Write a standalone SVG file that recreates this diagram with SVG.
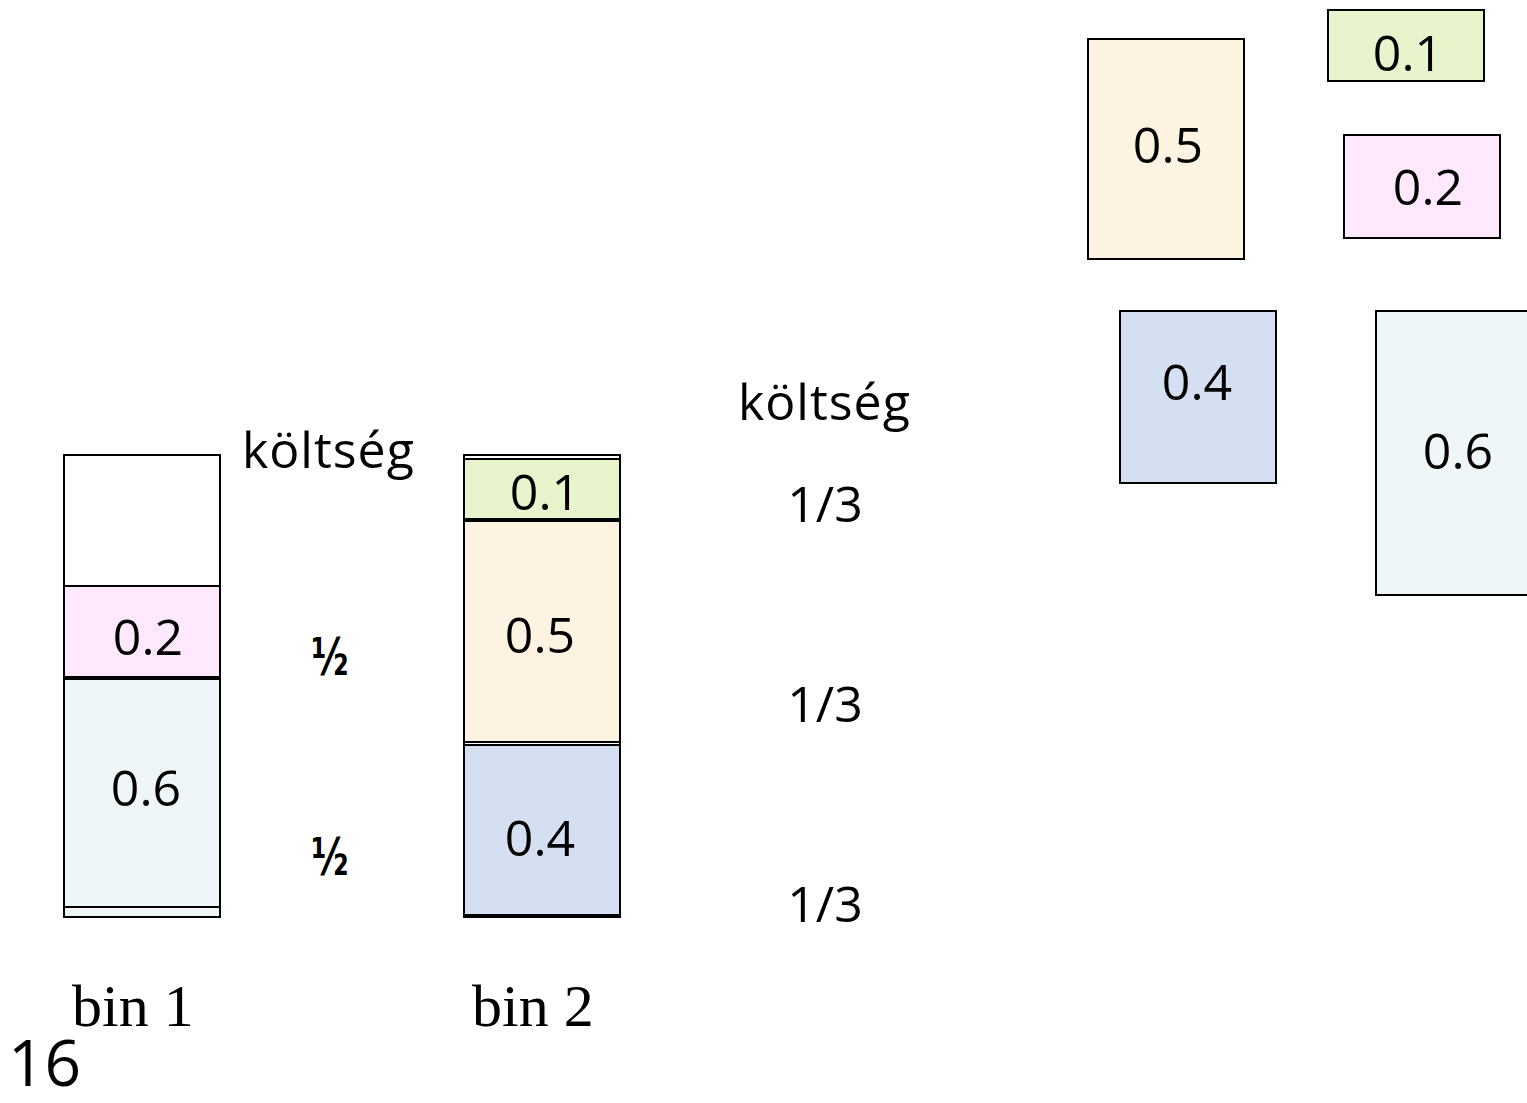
<svg xmlns="http://www.w3.org/2000/svg" width="1527" height="1103" viewBox="0 0 1527 1103">
  <style>
    .box { stroke: #000; stroke-width: 2; }
    .bin { fill: none; stroke: #000; stroke-width: 2; }
    .num { font-family: "Open Sans", "DejaVu Sans", sans-serif; font-size: 50px; fill: #000; text-anchor: middle; }
    .lbl { font-family: "Open Sans", "DejaVu Sans", sans-serif; font-size: 50px; letter-spacing: 1px; fill: #000; }
    .half { font-family: "DejaVu Sans", sans-serif; font-size: 40px; font-weight: bold; fill: #000; text-anchor: middle; }
    .serif { font-family: "Liberation Serif", "Times New Roman", serif; font-size: 60px; fill: #000; }
    .c1 { fill: #E8F4CC; }
    .c2 { fill: #FEE8FE; }
    .c4 { fill: #D4DFF2; }
    .c5 { fill: #FEF3E2; }
    .c6 { fill: #EEF6F8; }
  </style>

  <!-- bin 1: 0.6 and 0.2 packed, top part empty -->
  <g id="bin1">
    <rect class="box" x="64" y="455" width="156" height="462" fill="#fff"/>
    <rect class="box c6" x="64" y="679" width="156" height="238"/>
    <line x1="64" y1="907" x2="220" y2="907" stroke="#000" stroke-width="2"/>
    <rect class="box c2" x="64" y="586" width="156" height="91"/>
    <text class="num" x="148" y="655">0.2</text>
    <text class="num" x="146" y="806">0.6</text>
  </g>

  <!-- bin 2: 0.4, 0.5, 0.1 -->
  <g id="bin2">
    <rect class="bin" x="464" y="455" width="156" height="462"/>
    <rect class="box c1" x="464" y="459" width="156" height="60"/>
    <rect class="box c5" x="464" y="521" width="156" height="221"/>
    <rect class="box c4" x="464" y="745" width="156" height="170"/>
    <text class="num" x="545" y="510">0.1</text>
    <text class="num" x="540" y="653">0.5</text>
    <text class="num" x="540" y="856">0.4</text>
  </g>

  <!-- loose items -->
  <g id="item05">
    <rect class="box c5" x="1088" y="39" width="156" height="220"/>
    <text class="num" x="1168" y="163">0.5</text>
  </g>
  <g id="item01">
    <rect class="box c1" x="1328" y="10" width="156" height="71"/>
    <text class="num" x="1408" y="71">0.1</text>
  </g>
  <g id="item02">
    <rect class="box c2" x="1344" y="135" width="156" height="103"/>
    <text class="num" x="1428" y="205">0.2</text>
  </g>
  <g id="item04">
    <rect class="box c4" x="1120" y="311" width="156" height="172"/>
    <text class="num" x="1197" y="400">0.4</text>
  </g>
  <g id="item06">
    <rect class="box c6" x="1376" y="311" width="160" height="284"/>
    <text class="num" x="1458" y="469">0.6</text>
  </g>

  <!-- cost columns -->
  <g id="cost1">
    <text class="lbl" x="242" y="468">költség</text>
    <text class="half" transform="translate(330,675) scale(0.9,1.3)">½</text>
    <text class="half" transform="translate(330,875) scale(0.9,1.3)">½</text>
  </g>
  <g id="cost2">
    <text class="lbl" x="738" y="420">költség</text>
    <text class="num" x="825" y="522">1/3</text>
    <text class="num" x="825" y="722">1/3</text>
    <text class="num" x="825" y="922">1/3</text>
  </g>

  <!-- captions -->
  <g id="captions">
    <text class="serif" x="72" y="1026">bin 1</text>
    <text class="serif" x="472" y="1026">bin 2</text>
    <text x="8" y="1086" font-family="Open Sans, DejaVu Sans, sans-serif" font-size="64" fill="#000">16</text>
  </g>

  <g id="connectors"/>
</svg>
